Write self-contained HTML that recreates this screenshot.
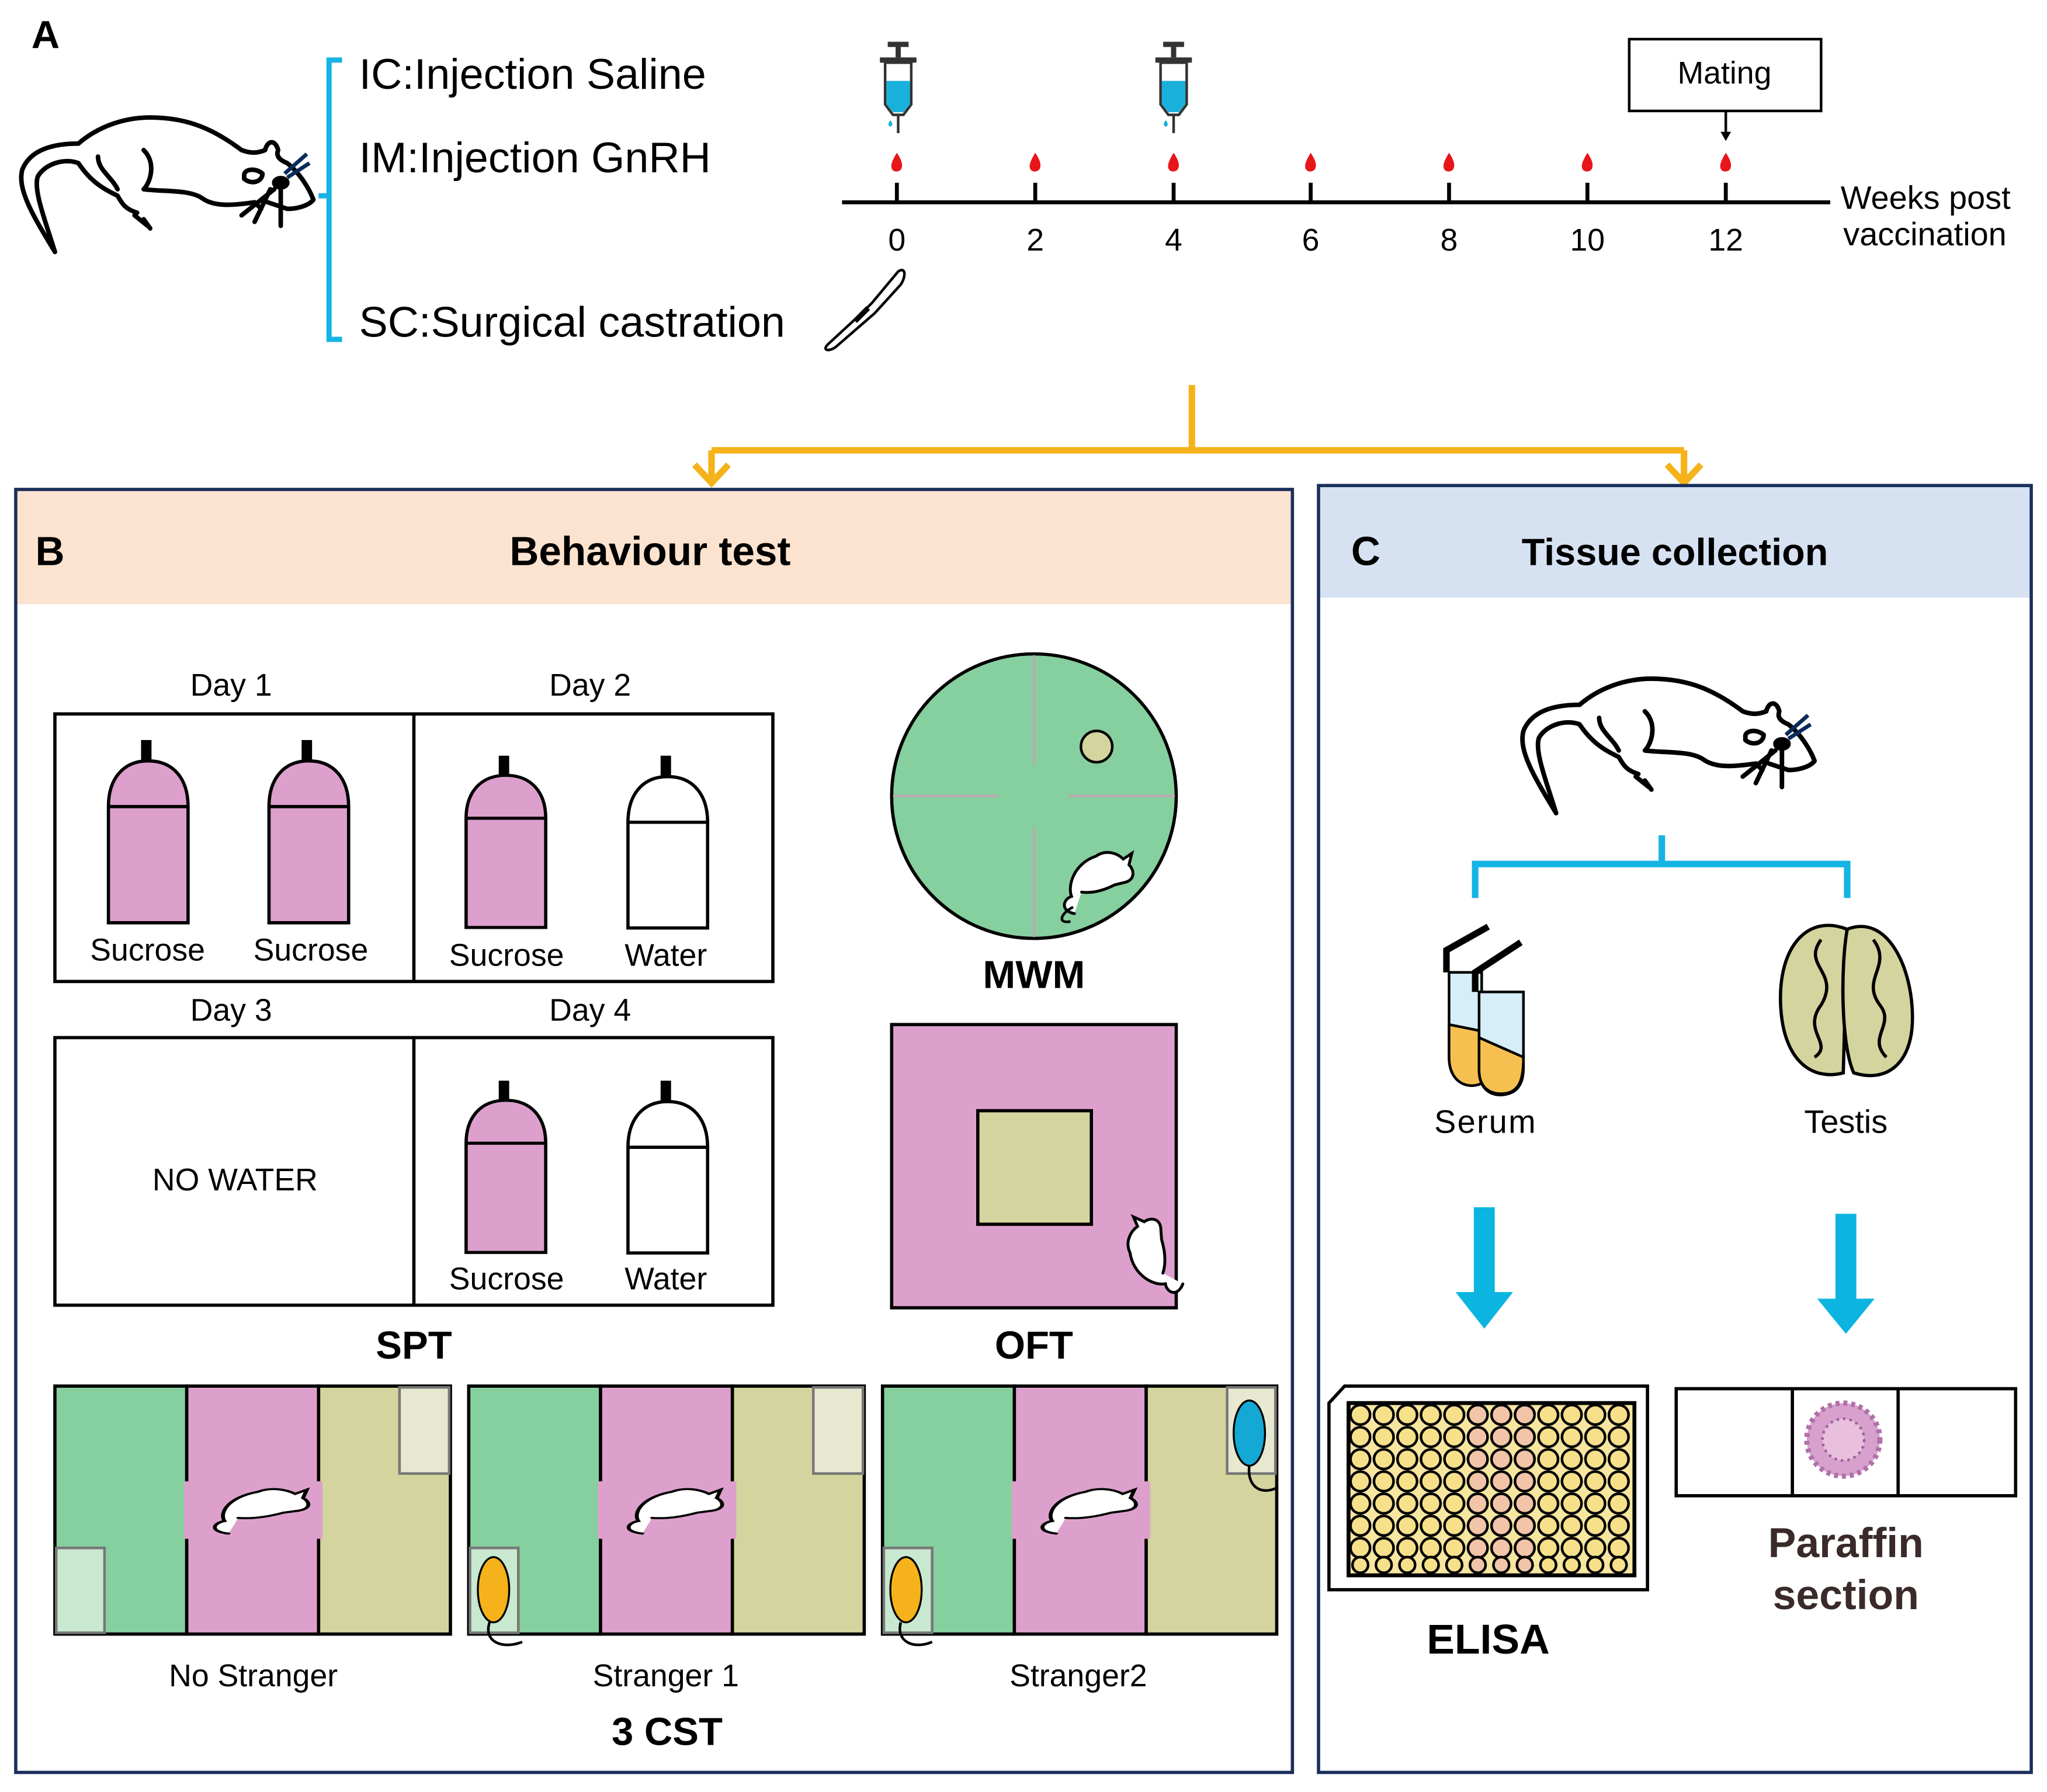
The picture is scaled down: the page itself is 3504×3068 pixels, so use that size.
<!DOCTYPE html>
<html><head><meta charset="utf-8"><style>html,body{margin:0;padding:0;background:#fff}svg{display:block}</style></head>
<body>
<svg width="3504" height="3068" viewBox="0 0 1568 1373" xmlns="http://www.w3.org/2000/svg" font-family="Liberation Sans, Arial, sans-serif">
<defs>
<g id="rat" fill="none" stroke="#000" stroke-width="3.5" stroke-linecap="round" stroke-linejoin="round">
  <path d="M27,108 C10,80 -2,60 2,45 C8,30 25,25 45,25 C60,12 80,5 100,5 C130,5 150,15 170,30 C178,33 183,32 188,30 C190,22 196,22 198,30 C196,35 200,38 205,40 C215,48 222,60 225,68 C222,72 214,75 205,75 L190,70"/>
  <path d="M27,108 C20,85 10,60 14,50 C20,40 35,36 45,40 C55,55 65,60 75,65 C78,70 80,75 90,78"/>
  <path d="M60,35 C60,45 70,50 75,60"/>
  <path d="M95,30 C105,40 100,55 95,60 C110,62 130,60 140,67 C150,74 165,72 180,70 L185,75"/>
  <path d="M88,80 L98,88 M95,83 L100,90"/>
  <path d="M172,49 C172,45 180,43 186,48 C186,54 178,57 172,52 Z"/>
  <path d="M192,60 L180,85 M200,60 L200,88 M195,60 L170,80"/>
  <ellipse cx="200" cy="55" rx="5" ry="3.5" fill="#000"/>
</g>
<g id="bottlep">
  <rect x="25" y="0" width="8" height="16" fill="#000"/>
  <path d="M0,51 L0,140 L61,140 L61,51 C61,30 50,16 30.5,16 C11,16 0,30 0,51 Z" fill="#dda0cc" stroke="#000" stroke-width="2.5"/>
  <line x1="0" y1="51" x2="61" y2="51" stroke="#000" stroke-width="2.5"/>
</g>
<g id="bottlew">
  <rect x="25" y="0" width="8" height="16" fill="#000"/>
  <path d="M0,51 L0,132 L61,132 L61,51 C61,30 50,16 30.5,16 C11,16 0,30 0,51 Z" fill="#fff" stroke="#000" stroke-width="2.5"/>
  <line x1="0" y1="51" x2="61" y2="51" stroke="#000" stroke-width="2.5"/>
</g>
<g id="syr">
  <rect x="-8" y="0" width="16" height="4" fill="#333"/>
  <rect x="-2" y="4" width="4" height="8" fill="#333"/>
  <rect x="-14" y="12" width="28" height="4" fill="#333"/>
  <path d="M-10,16 L-10,48 L-4,56 L4,56 L10,48 L10,16 Z" fill="#fff" stroke="#333" stroke-width="2"/>
  <path d="M-9,30 L9,30 L9,48 L4,54 L-4,54 L-9,48 Z" fill="#1ab0dc"/>
  <line x1="0" y1="56" x2="0" y2="70" stroke="#333" stroke-width="2"/>
  <path d="M-6,60 q-3,4 0,5 q3,-1 0,-5z" fill="#1ab0dc"/>
</g>
<g id="drop"><path d="M0,-8 C4,-2 5,2 3,5 C1,7 -3,7 -4,4 C-5,1 -3,-3 0,-8Z" fill="#e8151b"/></g>
<g id="mini" fill="#fff" stroke="#000" stroke-width="2" stroke-linecap="round">
  <path d="M10,50 C0,48 2,40 8,38 C5,30 10,15 25,10 C32,5 40,8 44,12 L50,8 L48,16 C52,20 52,26 46,28 L38,30 C30,34 22,36 15,35"/>
</g>
</defs>

<!-- A -->
<text x="24" y="37" font-size="30" font-weight="bold">A</text>
<use href="#rat" transform="translate(15,85)"/>
<path d="M218,133 L235,118 M220,136 L237,125" stroke="#0a2a5a" stroke-width="3"/>
<path d="M262,46 L252,46 L252,260 L262,260 M252,150 L244,150" fill="none" stroke="#14b4e4" stroke-width="4"/>
<text x="275" y="68" font-size="33">IC:Injection Saline</text>
<text x="275" y="132" font-size="33">IM:Injection GnRH</text>
<text x="275" y="258" font-size="33">SC:Surgical castration</text>

<line x1="645" y1="155" x2="1402" y2="155" stroke="#000" stroke-width="3"/>
<g stroke="#000" stroke-width="3">
<line x1="687" y1="140" x2="687" y2="155"/><line x1="793" y1="140" x2="793" y2="155"/><line x1="899" y1="140" x2="899" y2="155"/><line x1="1004" y1="140" x2="1004" y2="155"/><line x1="1110" y1="140" x2="1110" y2="155"/><line x1="1216" y1="140" x2="1216" y2="155"/><line x1="1322" y1="140" x2="1322" y2="155"/>
</g>
<g font-size="24" text-anchor="middle">
<text x="687" y="192">0</text><text x="793" y="192">2</text><text x="899" y="192">4</text><text x="1004" y="192">6</text><text x="1110" y="192">8</text><text x="1216" y="192">10</text><text x="1322" y="192">12</text>
</g>
<use href="#drop" transform="translate(687,125)"/><use href="#drop" transform="translate(793,125)"/><use href="#drop" transform="translate(899,125)"/><use href="#drop" transform="translate(1004,125)"/><use href="#drop" transform="translate(1110,125)"/><use href="#drop" transform="translate(1216,125)"/><use href="#drop" transform="translate(1322,125)"/>
<use href="#syr" transform="translate(688,32)"/>
<use href="#syr" transform="translate(899,32)"/>
<rect x="1248" y="30" width="147" height="55" fill="#fff" stroke="#000" stroke-width="2"/>
<text x="1321" y="64" font-size="24" text-anchor="middle">Mating</text>
<line x1="1322" y1="85" x2="1322" y2="102" stroke="#000" stroke-width="2"/>
<path d="M1318,101 L1326,101 L1322,108Z" fill="#000"/>
<text x="1410" y="160" font-size="25">Weeks post</text>
<text x="1412" y="188" font-size="25">vaccination</text>
<path d="M634,264 L660,240 L668,232 L688,208 C694,204 694,212 690,218 L670,240 L640,266 C634,270 630,268 634,264Z" fill="#fff" stroke="#000" stroke-width="2"/>
<path d="M655,246 L665,236" stroke="#000" stroke-width="4"/>

<!-- orange connector -->
<g stroke="#f5b21a" stroke-width="5" fill="none">
<line x1="913" y1="295" x2="913" y2="345"/>
<line x1="545" y1="345" x2="1290" y2="345"/>
<line x1="545" y1="345" x2="545" y2="368"/>
<line x1="1290" y1="345" x2="1290" y2="368"/>
<path d="M532,356 L545,370 L558,356"/>
<path d="M1277,356 L1290,370 L1303,356"/>
</g>

<!-- Panel B -->
<rect x="12" y="375" width="978" height="88" fill="#fce3d0"/>
<rect x="12" y="375" width="978" height="983" fill="none" stroke="#1a2f5a" stroke-width="2.5"/>
<text x="27" y="433" font-size="31" font-weight="bold">B</text>
<text x="498" y="433" font-size="31" font-weight="bold" text-anchor="middle">Behaviour test</text>

<g font-size="24" text-anchor="middle">
<text x="177" y="533">Day 1</text><text x="452" y="533">Day 2</text>
<text x="177" y="782">Day 3</text><text x="452" y="782">Day 4</text>
</g>
<rect x="42" y="547" width="550" height="205" fill="none" stroke="#000" stroke-width="2.5"/>
<line x1="317" y1="547" x2="317" y2="752" stroke="#000" stroke-width="2.5"/>
<rect x="42" y="795" width="550" height="205" fill="none" stroke="#000" stroke-width="2.5"/>
<line x1="317" y1="795" x2="317" y2="1000" stroke="#000" stroke-width="2.5"/>
<use href="#bottlep" transform="translate(83,567)"/>
<use href="#bottlep" transform="translate(206,567)"/>
<use href="#bottlep" transform="translate(357,579) scale(1,0.94)"/>
<use href="#bottlew" transform="translate(481,579)"/>
<use href="#bottlep" transform="translate(357,828) scale(1,0.94)"/>
<use href="#bottlew" transform="translate(481,828)"/>
<g font-size="24" text-anchor="middle">
<text x="113" y="736">Sucrose</text><text x="238" y="736">Sucrose</text>
<text x="388" y="740">Sucrose</text><text x="510" y="740">Water</text>
<text x="388" y="988">Sucrose</text><text x="510" y="988">Water</text>
<text x="180" y="912">NO WATER</text>
</g>
<text x="317" y="1041" font-size="30" font-weight="bold" text-anchor="middle">SPT</text>

<circle cx="792" cy="610" r="109" fill="#86cf9e" stroke="#000" stroke-width="2.5"/>
<g stroke="#c8a0b4" stroke-width="1.5">
<line x1="792" y1="502" x2="792" y2="585"/><line x1="792" y1="635" x2="792" y2="718"/>
<line x1="684" y1="610" x2="765" y2="610"/><line x1="819" y1="610" x2="900" y2="610"/>
</g>
<circle cx="840" cy="572" r="12" fill="#d4d49e" stroke="#000" stroke-width="2"/>
<use href="#mini" transform="translate(812,645) scale(1.1)"/>
<path d="M822,695 C812,700 810,708 820,706" fill="none" stroke="#000" stroke-width="2"/>
<text x="792" y="757" font-size="30" font-weight="bold" text-anchor="middle">MWM</text>

<rect x="683" y="785" width="218" height="217" fill="#dda0cc" stroke="#000" stroke-width="2.5"/>
<rect x="749" y="851" width="87" height="87" fill="#d4d49e" stroke="#000" stroke-width="2.5"/>
<use href="#mini" transform="translate(850,985) rotate(-80) scale(1.1)"/>
<text x="792" y="1041" font-size="30" font-weight="bold" text-anchor="middle">OFT</text>

<!-- 3CST -->
<g stroke="#000" stroke-width="2.5">
<rect x="42" y="1062" width="101" height="190" fill="#86cf9e"/><rect x="143" y="1062" width="101" height="190" fill="#dda0cc"/><rect x="244" y="1062" width="101" height="190" fill="#d4d49e"/>
<rect x="359" y="1062" width="101" height="190" fill="#86cf9e"/><rect x="460" y="1062" width="101" height="190" fill="#dda0cc"/><rect x="561" y="1062" width="101" height="190" fill="#d4d49e"/>
<rect x="676" y="1062" width="101" height="190" fill="#86cf9e"/><rect x="777" y="1062" width="101" height="190" fill="#dda0cc"/><rect x="878" y="1062" width="100" height="190" fill="#d4d49e"/>
</g>
<g fill="#dda0cc">
<rect x="141" y="1135" width="106" height="44"/><rect x="458" y="1135" width="106" height="44"/><rect x="775" y="1135" width="106" height="44"/>
</g>
<g fill="#e8e8d0" stroke="#777" stroke-width="2">
<rect x="306" y="1063" width="38" height="66"/><rect x="623" y="1063" width="38" height="66"/><rect x="940" y="1063" width="37" height="66"/>
</g>
<g fill="#c8e8d0" stroke="#777" stroke-width="2">
<rect x="43" y="1186" width="37" height="65"/><rect x="360" y="1186" width="37" height="65"/><rect x="677" y="1186" width="37" height="65"/>
</g>
<g>
<use href="#mini" transform="translate(160,1135) scale(1.5,0.8)"/>
<use href="#mini" transform="translate(477,1135) scale(1.5,0.8)"/>
<use href="#mini" transform="translate(794,1135) scale(1.5,0.8)"/>
</g>
<ellipse cx="378" cy="1218" rx="12" ry="25" fill="#f5b21a" stroke="#000" stroke-width="1.5"/>
<ellipse cx="694" cy="1218" rx="12" ry="25" fill="#f5b21a" stroke="#000" stroke-width="1.5"/>
<ellipse cx="957" cy="1098" rx="12" ry="25" fill="#14a8d4" stroke="#000" stroke-width="1.5"/>
<path d="M375,1243 C370,1258 385,1264 400,1258 M690,1243 C686,1258 700,1264 714,1258 M957,1123 C955,1138 965,1146 978,1140" fill="none" stroke="#000" stroke-width="2"/>
<g font-size="24" text-anchor="middle">
<text x="194" y="1292">No Stranger</text><text x="510" y="1292">Stranger 1</text><text x="826" y="1292">Stranger2</text>
</g>
<text x="511" y="1337" font-size="30" font-weight="bold" text-anchor="middle">3 CST</text>

<!-- Panel C -->
<rect x="1010" y="372" width="546" height="86" fill="#d6e2f2"/>
<rect x="1010" y="372" width="546" height="986" fill="none" stroke="#1a2f5a" stroke-width="2.5"/>
<text x="1035" y="433" font-size="31" font-weight="bold">C</text>
<text x="1283" y="433" font-size="29" font-weight="bold" text-anchor="middle">Tissue collection</text>
<use href="#rat" transform="translate(1165,515)"/>
<path d="M1368,563 L1385,548 M1370,566 L1387,555" stroke="#0a2a5a" stroke-width="3"/>
<path d="M1130,688 L1130,662 L1415,662 L1415,688 M1273,662 L1273,640" fill="none" stroke="#14b4e4" stroke-width="5"/>
<!-- tubes -->
<g stroke="#000" stroke-width="2">
<path d="M1110,745 L1110,810 C1110,830 1125,835 1135,830 L1135,745Z" fill="#d6eef8"/>
<path d="M1110,785 L1135,790 L1135,830 C1125,835 1110,830 1110,810Z" fill="#f5c050"/>
<path d="M1133,760 L1133,820 C1133,840 1150,842 1160,836 C1168,830 1167,820 1167,810 L1167,760Z" fill="#d6eef8"/>
<path d="M1133,795 L1167,810 C1167,825 1165,838 1150,838 C1138,838 1133,830 1133,820Z" fill="#f5c050"/>
</g>
<path d="M1108,745 L1108,728 L1140,710 M1130,760 L1130,745 L1165,722" fill="none" stroke="#000" stroke-width="5"/>
<!-- testis -->
<g stroke="#000" stroke-width="2.5" fill="#d4d49e">
<path d="M1415,712 C1385,700 1362,725 1364,770 C1366,815 1390,828 1412,822 Z"/>
<path d="M1415,712 C1445,700 1465,740 1465,780 C1465,815 1445,830 1420,822 C1410,800 1410,740 1415,712Z"/>
</g>
<path d="M1395,720 C1380,740 1410,745 1395,770 C1380,790 1405,800 1390,810 M1435,720 C1450,740 1425,750 1440,770 C1452,785 1430,795 1445,810" fill="none" stroke="#000" stroke-width="2.5"/>
<text x="1138" y="868" font-size="25" text-anchor="middle" letter-spacing="1">Serum</text>
<text x="1414" y="868" font-size="25" text-anchor="middle">Testis</text>
<!-- cyan arrows -->
<g fill="#0bb5e0">
<path d="M1129,925 L1145,925 L1145,990 L1159,990 L1137,1018 L1115,990 L1129,990Z"/>
<path d="M1406,930 L1422,930 L1422,995 L1436,995 L1414,1022 L1392,995 L1406,995Z"/>
</g>
<!-- ELISA -->
<path d="M1018,1075 L1030,1062 L1262,1062 L1262,1218 L1018,1218Z" fill="#fff" stroke="#000" stroke-width="2.5"/>
<rect x="1033" y="1075" width="219" height="132" fill="#f6e6a0" stroke="#000" stroke-width="3"/>
<text x="1140" y="1267" font-size="32" font-weight="bold" text-anchor="middle">ELISA</text>
<!-- slide -->
<rect x="1284" y="1064" width="260" height="82" fill="#fff" stroke="#000" stroke-width="2.5"/>
<line x1="1373" y1="1064" x2="1373" y2="1146" stroke="#000" stroke-width="2.5"/>
<line x1="1454" y1="1064" x2="1454" y2="1146" stroke="#000" stroke-width="2.5"/>
<circle cx="1412" cy="1103" r="28" fill="#d8a0cc" stroke="#b070a8" stroke-width="4" stroke-dasharray="3 3"/>
<circle cx="1412" cy="1103" r="16" fill="#e8c0dc" stroke="#a060a0" stroke-width="2" stroke-dasharray="2 3"/>
<text x="1414" y="1193" font-size="32" font-weight="bold" text-anchor="middle" fill="#3a2a2a">Paraffin</text>
<text x="1414" y="1233" font-size="32" font-weight="bold" text-anchor="middle" fill="#3a2a2a">section</text>

<!-- plate wells -->
<g stroke="#000" stroke-width="2">
<g fill="#f6e08a">
<circle cx="1042" cy="1084" r="7.5"/><circle cx="1060" cy="1084" r="7.5"/><circle cx="1078" cy="1084" r="7.5"/><circle cx="1096" cy="1084" r="7.5"/><circle cx="1114" cy="1084" r="7.5"/><circle cx="1186" cy="1084" r="7.5"/><circle cx="1204" cy="1084" r="7.5"/><circle cx="1222" cy="1084" r="7.5"/><circle cx="1240" cy="1084" r="7.5"/>
<circle cx="1042" cy="1101" r="7.5"/><circle cx="1060" cy="1101" r="7.5"/><circle cx="1078" cy="1101" r="7.5"/><circle cx="1096" cy="1101" r="7.5"/><circle cx="1114" cy="1101" r="7.5"/><circle cx="1186" cy="1101" r="7.5"/><circle cx="1204" cy="1101" r="7.5"/><circle cx="1222" cy="1101" r="7.5"/><circle cx="1240" cy="1101" r="7.5"/>
<circle cx="1042" cy="1118" r="7.5"/><circle cx="1060" cy="1118" r="7.5"/><circle cx="1078" cy="1118" r="7.5"/><circle cx="1096" cy="1118" r="7.5"/><circle cx="1114" cy="1118" r="7.5"/><circle cx="1186" cy="1118" r="7.5"/><circle cx="1204" cy="1118" r="7.5"/><circle cx="1222" cy="1118" r="7.5"/><circle cx="1240" cy="1118" r="7.5"/>
<circle cx="1042" cy="1135" r="7.5"/><circle cx="1060" cy="1135" r="7.5"/><circle cx="1078" cy="1135" r="7.5"/><circle cx="1096" cy="1135" r="7.5"/><circle cx="1114" cy="1135" r="7.5"/><circle cx="1186" cy="1135" r="7.5"/><circle cx="1204" cy="1135" r="7.5"/><circle cx="1222" cy="1135" r="7.5"/><circle cx="1240" cy="1135" r="7.5"/>
<circle cx="1042" cy="1152" r="7.5"/><circle cx="1060" cy="1152" r="7.5"/><circle cx="1078" cy="1152" r="7.5"/><circle cx="1096" cy="1152" r="7.5"/><circle cx="1114" cy="1152" r="7.5"/><circle cx="1186" cy="1152" r="7.5"/><circle cx="1204" cy="1152" r="7.5"/><circle cx="1222" cy="1152" r="7.5"/><circle cx="1240" cy="1152" r="7.5"/>
<circle cx="1042" cy="1169" r="7.5"/><circle cx="1060" cy="1169" r="7.5"/><circle cx="1078" cy="1169" r="7.5"/><circle cx="1096" cy="1169" r="7.5"/><circle cx="1114" cy="1169" r="7.5"/><circle cx="1186" cy="1169" r="7.5"/><circle cx="1204" cy="1169" r="7.5"/><circle cx="1222" cy="1169" r="7.5"/><circle cx="1240" cy="1169" r="7.5"/>
<circle cx="1042" cy="1186" r="7.5"/><circle cx="1060" cy="1186" r="7.5"/><circle cx="1078" cy="1186" r="7.5"/><circle cx="1096" cy="1186" r="7.5"/><circle cx="1114" cy="1186" r="7.5"/><circle cx="1186" cy="1186" r="7.5"/><circle cx="1204" cy="1186" r="7.5"/><circle cx="1222" cy="1186" r="7.5"/><circle cx="1240" cy="1186" r="7.5"/>
<circle cx="1042" cy="1199" r="6"/><circle cx="1060" cy="1199" r="6"/><circle cx="1078" cy="1199" r="6"/><circle cx="1096" cy="1199" r="6"/><circle cx="1114" cy="1199" r="6"/><circle cx="1186" cy="1199" r="6"/><circle cx="1204" cy="1199" r="6"/><circle cx="1222" cy="1199" r="6"/><circle cx="1240" cy="1199" r="6"/>
</g>
<g fill="#f2c4a8">
<circle cx="1132" cy="1084" r="7.5"/><circle cx="1150" cy="1084" r="7.5"/><circle cx="1168" cy="1084" r="7.5"/>
<circle cx="1132" cy="1101" r="7.5"/><circle cx="1150" cy="1101" r="7.5"/><circle cx="1168" cy="1101" r="7.5"/>
<circle cx="1132" cy="1118" r="7.5"/><circle cx="1150" cy="1118" r="7.5"/><circle cx="1168" cy="1118" r="7.5"/>
<circle cx="1132" cy="1135" r="7.5"/><circle cx="1150" cy="1135" r="7.5"/><circle cx="1168" cy="1135" r="7.5"/>
<circle cx="1132" cy="1152" r="7.5"/><circle cx="1150" cy="1152" r="7.5"/><circle cx="1168" cy="1152" r="7.5"/>
<circle cx="1132" cy="1169" r="7.5"/><circle cx="1150" cy="1169" r="7.5"/><circle cx="1168" cy="1169" r="7.5"/>
<circle cx="1132" cy="1186" r="7.5"/><circle cx="1150" cy="1186" r="7.5"/><circle cx="1168" cy="1186" r="7.5"/>
<circle cx="1132" cy="1199" r="6"/><circle cx="1150" cy="1199" r="6"/><circle cx="1168" cy="1199" r="6"/>
</g>
</g>
</svg>
</body></html>
